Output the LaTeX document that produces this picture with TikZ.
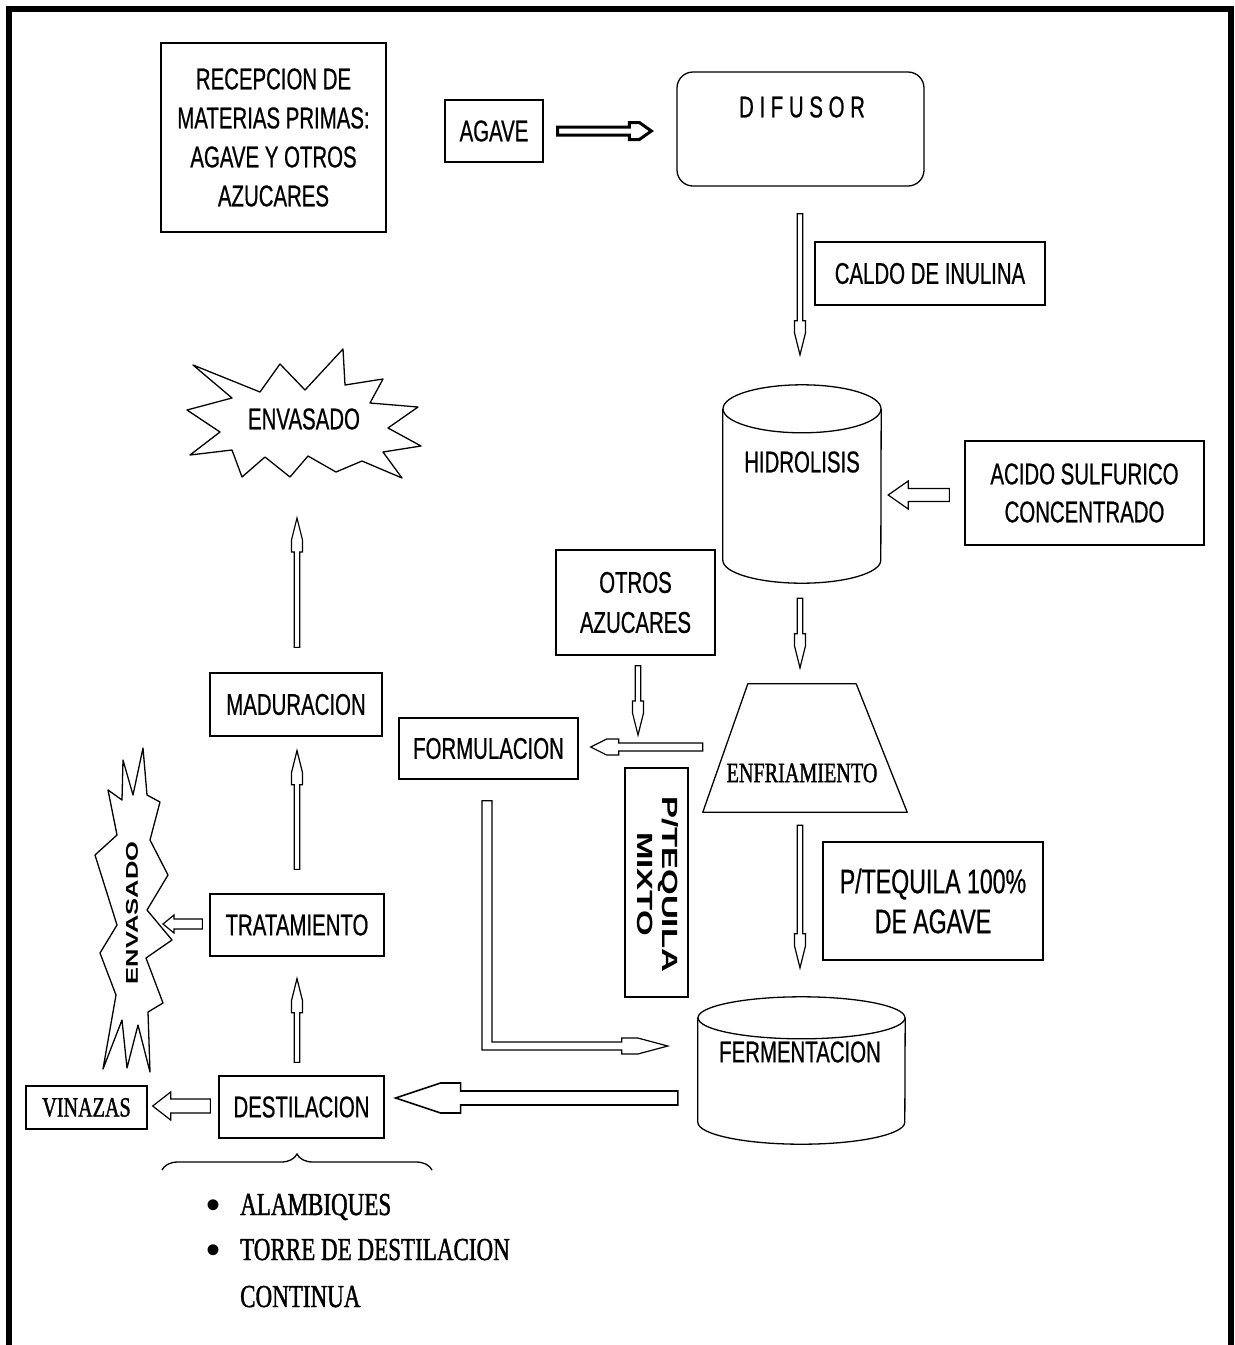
\documentclass[tikz,border=0pt]{standalone}
\usepackage{fontspec}
\setmainfont{Liberation Sans}
\newfontfamily\nsans[FakeStretch=0.68,FakeBold=0.6]{Liberation Sans}
\newfontfamily\nserif[FakeStretch=0.72,FakeBold=1.2]{Liberation Serif}
\newfontfamily\wsans[FakeStretch=1.5]{Liberation Sans}
\usetikzlibrary{calc,decorations.pathreplacing}
\tikzset{
  pbox/.style={draw, line width=1.3pt, inner sep=0pt, align=center,
    font=\nsans\fontsize{30}{39}\selectfont},
  ptext/.style={inner sep=0pt, align=center, font=\nsans\fontsize{30}{39}\selectfont},
  stext/.style={inner sep=0pt, font=\nserif\fontsize{28}{34}\selectfont},
  ltext/.style={inner sep=0pt, font=\nserif\fontsize{32}{40}\selectfont},
  shapeline/.style={line width=1.3pt, line join=round},
  ghost/.style={inner sep=0pt, draw=none},
  arr/.style={line width=1.2pt},
  harrow/.style n args={4}{to path={
    let \p1=(\tikztostart), \p2=(\tikztotarget),
        \p3=($(\p2)!#3!(\p1)$), \p4=($(\p2)!#4!(\p1)$) in
    ($(\p1)!#1!90:(\p2)$) -- ($(\p3)!#1!90:(\p2)$) -- ($(\p3)!#2!90:(\p2)$)
    -- ($(\p4)!#2!90:(\p2)$) -- (\p2) -- ($(\p4)!#2!-90:(\p2)$)
    -- ($(\p3)!#2!-90:(\p2)$) -- ($(\p3)!#1!-90:(\p2)$)
    -- ($(\p1)!#1!-90:(\p2)$) -- cycle}},
  slim/.style={harrow={2.7pt}{5.5pt}{34pt}{22pt}},
}
\begin{document}
\begin{tikzpicture}[x=1pt,y=-1pt]
\useasboundingbox (0,0) rectangle (1235,1345);
\fill[white] (0,0) rectangle (1235,1345);
\draw[line width=6pt] (9,1345) -- (9,8.5) -- (1231,8.5) -- (1231,1345);

% boxes
\node[pbox, minimum width=225pt, minimum height=189pt] (recep) at (273.5,137.5)
  {RECEPCION DE\\MATERIAS PRIMAS:\\AGAVE Y OTROS\\AZUCARES};
\node[pbox, minimum width=98pt, minimum height=62pt] (agave) at (494,131) {AGAVE};
\node[draw, line width=1.3pt, rounded corners=16pt, minimum width=247pt, minimum height=114pt] (difusor) at (800.5,129) {};
\node[ptext] (diftext) at (802,107) {D I F U S O R};
\node[pbox, minimum width=230pt, minimum height=63pt] (caldo) at (930,273.5) {CALDO DE INULINA};

% hidrolisis cylinder
\node[ghost, minimum width=158pt, minimum height=198pt] (hidro) at (802,484) {};
\draw[shapeline] ([yshift=-24pt]hidro.north west) -- ([yshift=23pt]hidro.south west)
  arc[start angle=180, end angle=360, x radius=79pt, y radius=23pt] -- ([yshift=-24pt]hidro.north east);
\draw[shapeline] ([yshift=-24pt]hidro.north) ellipse [x radius=79pt, y radius=24pt];
\node[ptext] (hidrotext) at (802,462) {HIDROLISIS};

\node[pbox, minimum width=239pt, minimum height=104pt, font=\nsans\fontsize{30}{38}\selectfont] (acido) at (1084.5,493) {ACIDO SULFURICO\\CONCENTRADO};
\node[pbox, minimum width=159pt, minimum height=105pt, font=\nsans\fontsize{30}{40}\selectfont] (otros) at (635.5,602.5) {OTROS\\AZUCARES};

% enfriamiento trapezoid
\node[ghost, minimum width=204pt, minimum height=128pt] (enfr) at (805,748) {};
\draw[shapeline] ([xshift=45pt]enfr.north west) -- ([xshift=-51pt]enfr.north east) -- (enfr.south east) -- (enfr.south west) -- cycle;
\node[stext] (enfrtext) at (802,773) {ENFRIAMIENTO};

\node[pbox, minimum width=179pt, minimum height=61pt] (formul) at (488.5,748.5) {FORMULACION};
\node[draw, line width=1.3pt, inner sep=0pt, minimum width=63pt, minimum height=229pt] (mixto) at (656.5,882.5) {};
\node[rotate=-90, align=center, inner sep=0pt, font=\wsans\bfseries\fontsize{22}{25}\selectfont] (mixtotext) at (658,884) {P/TEQUILA\\MIXTO};
\node[pbox, minimum width=220pt, minimum height=118pt, font=\nsans\fontsize{34}{40}\selectfont] (p100) at (933,901) {P/TEQUILA 100\%\\DE AGAVE};

% fermentacion cylinder
\node[ghost, minimum width=207pt, minimum height=147pt] (ferm) at (801.5,1070.5) {};
\draw[shapeline] ([yshift=-21pt]ferm.north west) -- ([yshift=22pt]ferm.south west)
  arc[start angle=180, end angle=360, x radius=103.5pt, y radius=22pt] -- ([yshift=-21pt]ferm.north east);
\draw[shapeline] ([yshift=-21pt]ferm.north) ellipse [x radius=103.5pt, y radius=21pt];
\node[ptext] (fermtext) at (800,1052) {FERMENTACION};

\node[pbox, minimum width=172pt, minimum height=63pt] (madur) at (296,704.5) {MADURACION};
\node[pbox, minimum width=174pt, minimum height=62pt] (trat) at (297,925) {TRATAMIENTO};
\node[pbox, minimum width=165pt, minimum height=62pt] (destil) at (301.5,1107) {DESTILACION};
\node[draw, line width=1.3pt, inner sep=0pt, minimum width=121pt, minimum height=43pt, font=\nserif\fontsize{28}{34}\selectfont] (vinazas) at (86.5,1107.5) {VINAZAS};

% starbursts
\draw[shapeline] (193,365) -- (260,392) -- (280,364) -- (305,390) -- (343,349) -- (345,385)
  -- (383,379) -- (370,403) -- (418,407) -- (388,428) -- (421,446) -- (383,452)
  -- (402,478) -- (362,461) -- (336,472) -- (308,456) -- (290,477) -- (265,457)
  -- (242,477) -- (232,450) -- (190,455) -- (220,432) -- (187,410) -- (232,398) -- cycle;
\node[ptext] (env1) at (304,419) {ENVASADO};

\draw[shapeline] (143,748) -- (147,795) -- (160,802) -- (150,840) -- (168,875) -- (147,910)
  -- (172,940) -- (146,958) -- (163,1003) -- (148,1012) -- (150,1072) -- (138,1025)
  -- (127,1068) -- (122,1020) -- (103,1069) -- (116,995) -- (100,953) -- (117,925)
  -- (95,855) -- (117,835) -- (108,790) -- (122,800) -- (123,760) -- (133,795) -- cycle;
\node[rotate=90, inner sep=0pt, font=\wsans\bfseries\fontsize{17}{20}\selectfont] (env2) at (132,913) {ENVASADO};

% brace and list
\draw[line width=1.3pt, decorate, decoration={brace, amplitude=16pt}] (162,1170) -- (432,1170);
\node[inner sep=0pt, font=\fontsize{40}{40}\selectfont, anchor=base] (b1) at (214,1218) {•};
\node[ltext, anchor=base west] (l1) at (240,1215) {ALAMBIQUES};
\node[inner sep=0pt, font=\fontsize{40}{40}\selectfont, anchor=base] (b2) at (214,1263) {•};
\node[ltext, anchor=base west] (l2) at (240,1260) {TORRE DE DESTILACION};
\node[ltext, anchor=base west] (l3) at (240,1307) {CONTINUA};

% arrows
\draw[arr, line width=3pt] ($(agave.east)+(14,0)$) to[harrow={4pt}{8.5pt}{22pt}{12pt}] ($(difusor.west)+(-25,2)$);
\draw[arr] ($(difusor.south)+(-0.5,27)$) to[slim] ($(hidro.north)+(-2,-30)$);
\draw[arr] ($(acido.west)+(-15,2)$) to[harrow={6.5pt}{14pt}{20pt}{20pt}] ($(hidro.east)+(7,11)$);
\draw[arr] ($(hidro.south)+(-2,15)$) to[slim] ($(enfr.north)+(-5,-16)$);
\coordinate (mixin) at (638,735);
\draw[arr] ($(otros.south)+(2.5,10)$) to[slim] (mixin);
\draw[arr] ($(enfr.west)+(0,-1)$) to[harrow={4pt}{8pt}{28pt}{16pt}] ($(formul.east)+(12,-1.5)$);
\draw[arr] ($(enfr.south)+(-5,13)$) to[slim] ($(ferm.north)+(-1.5,-29)$);
\draw[arr] let \p1=($(formul.south)+(-1.5,21)$), \p2=($(ferm.west)+(-30,-24.5)$) in
  (\x1-5pt,\y1) -- (\x1-5pt,\y2-4pt) -- (\x2-46pt,\y2-4pt) -- (\x2-46pt,\y2-8pt)
  -- (\x2-30pt,\y2-8pt) -- (\p2) -- (\x2-30pt,\y2+8pt) -- (\x2-46pt,\y2+8pt)
  -- (\x2-46pt,\y2+4pt) -- (\x1+5pt,\y2+4pt) -- (\x1+5pt,\y1) -- cycle;
\draw[arr, line width=1.6pt] ($(ferm.west)+(-20,27.5)$) to[harrow={7pt}{15pt}{65pt}{45pt}] ($(destil.east)+(11,-9)$);
\draw[arr] ($(destil.west)+(-8,-1)$) to[harrow={7pt}{14pt}{18pt}{18pt}] ($(vinazas.east)+(5,-1.5)$);
\draw[arr] ($(destil.north)+(-4.5,-13)$) to[slim] ($(trat.south)+(0,22)$);
\draw[arr] ($(trat.west)+(-7,-1)$) to[harrow={5pt}{9pt}{11pt}{11pt}] ($(env2)+(31,11)$);
\draw[arr] ($(trat.north)+(0,-24)$) to[slim] ($(madur.south)+(1,14)$);
\draw[arr] ($(madur.north)+(1,-25)$) to[slim] ($(env1)+(-7,99)$);
\end{tikzpicture}
\end{document}
